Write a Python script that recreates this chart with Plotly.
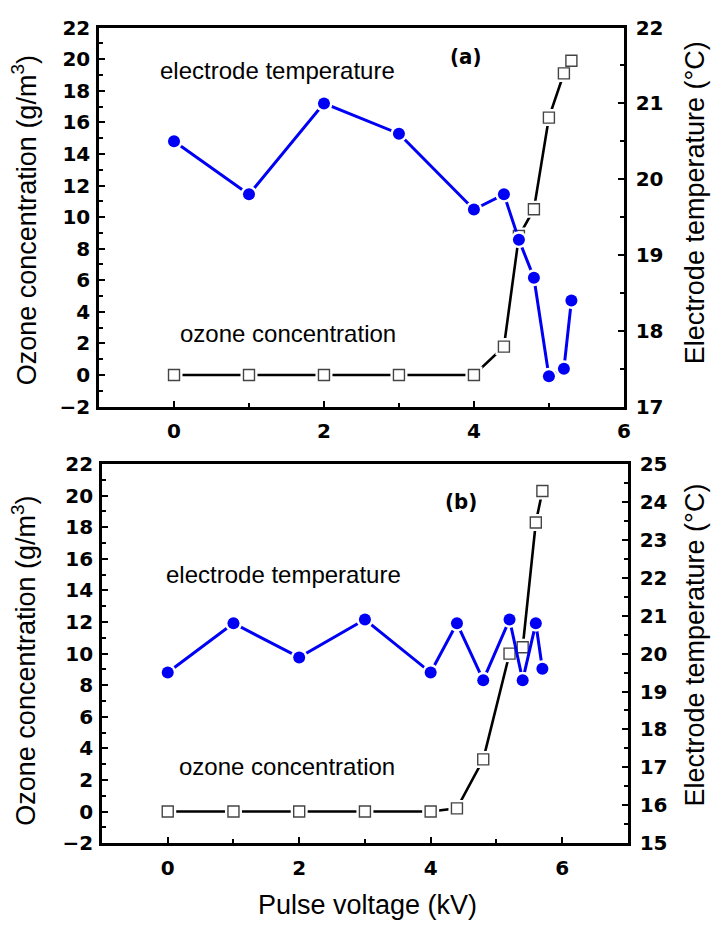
import plotly.graph_objects as go

# ---------------- data ----------------
# Panel (a)
volt_a_ozone = [0, 1, 2, 3, 4, 4.4, 4.6, 4.8, 5.0, 5.2, 5.3]
ozone_a = [0, 0, 0, 0, 0, 1.8, 8.8, 10.5, 16.3, 19.1, 19.9]
volt_a_temp = [0, 1, 2, 3, 4, 4.4, 4.6, 4.8, 5.0, 5.2, 5.3]
temp_a = [20.5, 19.8, 21.0, 20.6, 19.6, 19.8, 19.2, 18.7, 17.4, 17.5, 18.4]

# Panel (b)
volt_b_ozone = [0, 1, 2, 3, 4, 4.4, 4.8, 5.2, 5.4, 5.6, 5.7]
ozone_b = [0, 0, 0, 0, 0, 0.2, 3.3, 10.0, 10.4, 18.3, 20.3]
volt_b_temp = [0, 1, 2, 3, 4, 4.4, 4.8, 5.2, 5.4, 5.6, 5.7]
temp_b = [19.5, 20.8, 19.9, 20.9, 19.5, 20.8, 19.3, 20.9, 19.3, 20.8, 19.6]

x_ticks = [0, 2, 4, 6]
W, H = 721, 936

BLUE = "#0000f5"
FONT = "Liberation Sans, Arial, sans-serif"
TICKFONT = dict(family="DejaVu Sans", size=20, color="black", weight="bold")


def px(x):
    return x / W


def py(y):
    return 1 - y / H


fig = go.Figure()


def add_series(x, y, xa, ya, kind):
    if kind == "ozone":
        fig.add_trace(go.Scatter(x=x, y=y, xaxis=xa, yaxis=ya, mode="lines",
                                 line=dict(color="black", width=2.6), showlegend=False,
                                 hoverinfo="skip"))
        fig.add_trace(go.Scatter(x=x, y=y, xaxis=xa, yaxis=ya, mode="markers",
                                 marker=dict(symbol="square", size=17, color="white"),
                                 showlegend=False, hoverinfo="skip"))
        fig.add_trace(go.Scatter(x=x, y=y, xaxis=xa, yaxis=ya, mode="markers",
                                 marker=dict(symbol="square", size=11, color="white",
                                             line=dict(color="#444444", width=1.4)),
                                 showlegend=False))
    else:
        fig.add_trace(go.Scatter(x=x, y=y, xaxis=xa, yaxis=ya, mode="lines",
                                 line=dict(color=BLUE, width=3), showlegend=False,
                                 hoverinfo="skip"))
        fig.add_trace(go.Scatter(x=x, y=y, xaxis=xa, yaxis=ya, mode="markers",
                                 marker=dict(symbol="circle", size=17, color="white"),
                                 showlegend=False, hoverinfo="skip"))
        fig.add_trace(go.Scatter(x=x, y=y, xaxis=xa, yaxis=ya, mode="markers",
                                 marker=dict(symbol="circle", size=12, color=BLUE),
                                 showlegend=False))


# Panel (a): ozone below, temperature on top
add_series(volt_a_ozone, ozone_a, "x", "y", "ozone")
add_series(volt_a_temp, temp_a, "x", "y2", "temp")
# Panel (b): temperature below, ozone on top
add_series(volt_b_temp, temp_b, "x2", "y4", "temp")
add_series(volt_b_ozone, ozone_b, "x2", "y3", "ozone")

common_axis = dict(showline=True, linecolor="black", linewidth=2.6, ticks="inside",
                   tickcolor="black", tickwidth=2, ticklen=6, showgrid=False,
                   zeroline=False, tickfont=TICKFONT)

top_dom_y = [py(405), py(16)]
bot_dom_y = [py(853), py(464)]


def minor(dt, t0):
    return dict(dtick=dt, tick0=t0, ticks="inside", ticklen=4, tickwidth=2,
                tickcolor="black")


fig.update_layout(
    width=W, height=H,
    margin=dict(l=0, r=0, t=0, b=0),
    paper_bgcolor="white", plot_bgcolor="white",
    xaxis=dict(domain=[px(100), px(630)], range=[-1, 6], tickvals=x_ticks,
               anchor="y", mirror=True, minor=minor(1, 0), ticklabelstandoff=5,
               **common_axis),
    yaxis=dict(domain=top_dom_y, range=[-2, 22], dtick=2, tick0=0, anchor="x",
               minor=minor(1, 0), ticklabelstandoff=2, **common_axis),
    yaxis2=dict(range=[17, 22], dtick=1, tick0=17, overlaying="y", side="right",
                anchor="x", minor=minor(0.5, 17), ticklabelstandoff=5, **common_axis),
    xaxis2=dict(domain=[px(103), px(634)], range=[-1, 7], tickvals=x_ticks,
                anchor="y3", mirror=True, minor=minor(1, 0), ticklabelstandoff=5,
                **common_axis),
    yaxis3=dict(domain=bot_dom_y, range=[-2, 22], dtick=2, tick0=0, anchor="x2",
                minor=minor(1, 0), ticklabelstandoff=2, **common_axis),
    yaxis4=dict(range=[15, 25], dtick=1, tick0=15, overlaying="y3", side="right",
                anchor="x2", minor=minor(0.5, 15), ticklabelstandoff=5, **common_axis),
)

ann = []


def text(t, x, y, size, xanchor="left", angle=0, family=FONT, weight="normal"):
    ann.append(dict(text=t, x=px(x), y=py(y),
                    xref="paper", yref="paper", xanchor=xanchor, yanchor="middle",
                    textangle=angle, showarrow=False,
                    font=dict(family=family, size=size, color="black", weight=weight)))


# in-plot labels
text("electrode temperature", 160, 60, 24)
text("ozone concentration", 180, 330, 24)
text("(a)", 452, 46, 22, family="DejaVu Sans Condensed, Liberation Sans Narrow", weight="bold")
text("electrode temperature", 166, 577, 24)
text("ozone concentration", 179, 774, 24)
text("(b)", 447, 502, 22, family="DejaVu Sans Condensed, Liberation Sans Narrow", weight="bold")

# axis titles
text("Ozone concentration (g/m<sup>3</sup>)", 24, 214, 27, xanchor="center", angle=-90)
text("Electrode temperature (°C)", 702, 196, 27, xanchor="center", angle=-90)
text("Ozone concentration (g/m<sup>3</sup>)", 24, 666, 27, xanchor="center", angle=-90)
text("Electrode temperature (°C)", 702, 650, 27, xanchor="center", angle=-90)
text("Pulse voltage (kV)", 371, 917, 27, xanchor="center")

fig.update_layout(annotations=ann)
fig.write_html("out.html")
